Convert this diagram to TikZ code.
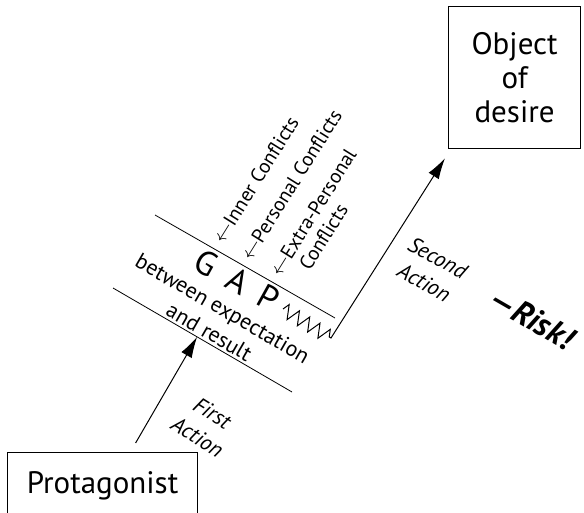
\documentclass[tikz,border=0pt]{standalone}
\usepackage{fontspec}
\setmainfont{PT Sans}
\usepackage{tikz}
\usetikzlibrary{positioning}
\usetikzlibrary{calc,arrows.meta}
\usetikzlibrary{decorations.pathmorphing}

\tikzset{
  box/.style = {draw, line width=1.2pt, inner sep=0pt, align=center},
  conflict/.style = {font=\fontsize{20}{22}\selectfont, anchor=base west, inner sep=0pt},
  slanted/.style = {font=\fontsize{22}{28}\selectfont\itshape, align=center},
  gapline/.style = {line width=0.8pt},
  action/.style = {line width=1pt, -{Latex[length=21pt,width=12pt]}},
}

\begin{document}
\begin{tikzpicture}[x=1pt, y=-1pt]
	\clip (0,0) rectangle (584,513);

	%Boxes
	\node[box, minimum width=190pt, minimum height=66pt, anchor=north west,
	      font=\fontsize{31}{33}\selectfont] (Prot) at (7,452) {Protagonist};
	\node[box, minimum width=132pt, minimum height=142pt, anchor=north west,
	      font=\fontsize{31}{34}\selectfont] (Obj) at (448,6) {Object\\of\\desire};

	%Gap lines
	\coordinate (UpA) at (155,215);
	\coordinate (UpB) at (335,318);
	\coordinate (LowA) at (113,288);
	\coordinate (LowB) at (292,392);
	\draw[gapline] (UpA) -- (UpB);
	\draw[gapline] (LowA) -- (LowB);

	\node[rotate=-29, font=\fontsize{34}{36}\selectfont] (Gap) at (237,280) {G\hspace{.45em}A\hspace{.45em}P};
	\node[rotate=-30, align=center, font=\fontsize{22}{27}\selectfont] (Between) at (216,320)
	     {between expectation\\and result};

	%Conflicts
	\node[conflict, rotate=58] (Inner) at (223,245) {$\leftarrow$Inner Conflicts};
	\node[conflict, rotate=58] (Personal) at (251,262) {$\leftarrow$Personal Conflicts};
	\node[conflict, rotate=58] (Extra) at (280,278)
	     {\begin{tabular}[t]{@{}l@{}}$\leftarrow$Extra-Personal\\\phantom{$\leftarrow$}Conflicts\end{tabular}};

	%First action
	\coordinate (FirstStart) at ($(Prot.north)+(33,-9)$);
	\coordinate (FirstEnd) at ($(LowA)!0.47!(LowB)$);
	\draw[action] (FirstStart) -- (FirstEnd);
	\node[slanted, rotate=-32] (First) at (205,425) {First\\Action};

	%Second action
	\coordinate (ZigStart) at (283,309);
	\coordinate (ZigEnd) at (331,338);
	\coordinate (ObjTip) at ($(Obj.south west)+(-3,9)$);
	\draw[action] decorate[decoration={zigzag, segment length=12pt, amplitude=7pt}]
	     {(ZigStart) -- (ZigEnd)} -- (ObjTip);
	\node[slanted, rotate=-29] (Second) at (431,270) {Second\\Action};
	\node[rotate=-30, font=\fontsize{33}{35}\selectfont\bfseries\itshape] (Risk) at (532,318) {---Risk!};
\end{tikzpicture}
\end{document}
